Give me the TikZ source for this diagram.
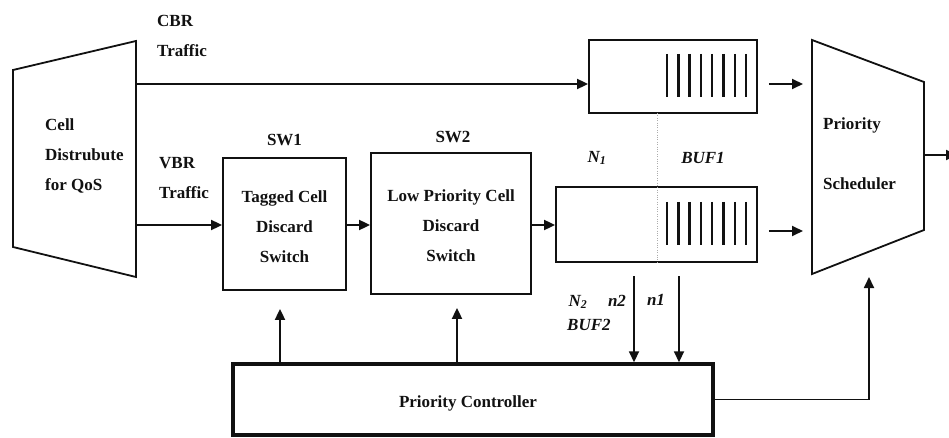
\documentclass[tikz,border=0pt]{standalone}
\usepackage{fontspec}
\setmainfont{Liberation Serif}
\usepackage{tikz}
\usetikzlibrary{arrows.meta,positioning}
\definecolor{DiagInk}{HTML}{111111}
\tikzset{
  box/.style={draw=DiagInk, line width=1.8pt, minimum width=#1},
  label/.style={text=DiagInk, font=\fontsize{17}{30}\selectfont\bfseries, inner sep=0pt},
  mlabel/.style={label, font=\fontsize{17}{30}\selectfont\bfseries\itshape},
  flow/.style={draw=DiagInk, line width=1.8pt, -{Triangle[length=11pt,width=10pt]}},
  link/.style={draw=DiagInk, line width=1.8pt},
}

\begin{document}
\begin{tikzpicture}[x=1pt,y=-1pt]
  \useasboundingbox (0,0) rectangle (949,438);
  % cell distributor and priority scheduler
  \draw[link, line join=miter] (13,70) -- (136,41) -- (136,277) -- (13,247) -- cycle;
  \draw[link, line join=miter] (812,40) -- (924,82) -- (924,230) -- (812,274) -- cycle;
  \node[label, align=left, anchor=west] (dist) at (45,155.5) {Cell\\Distrubute\\for QoS};
  \node[label, align=left, anchor=west] (sched) at (823,154) {Priority\\[30pt]Scheduler};
  \coordinate (cbr-out) at (136,84);
  \coordinate (vbr-out) at (136,225);
  \coordinate (sched-in1) at (803,84);
  \coordinate (sched-in2) at (803,231);
  \coordinate (sched-in3) at (869,277);
  \coordinate (sched-out) at (924,155);
  \coordinate (sched-end) at (957,155);
  \node[label, align=left, anchor=west] (cbr) at (157,35.5) {CBR\\Traffic};
  \node[label, align=left, anchor=west] (vbr) at (159,178) {VBR\\Traffic};

  % switches
  \node[box=123pt, minimum height=132pt] (sw1) at (284.5,224) {};
  \node[label, align=center] (sw1-txt) at (284.5,227) {Tagged Cell\\Discard\\Switch};
  \node[label] (sw1-name) at (284.5,140) {SW1};
  \node[box=160pt, minimum height=141pt] (sw2) at (451,223.5) {};
  \node[label, align=center] (sw2-txt) at (451,226) {Low Priority Cell\\Discard\\Switch};
  \node[label] (sw2-name) at (453,137) {SW2};

  % buffers
  \node[box=168pt, minimum height=73pt] (buf1) at (673,76.5) {};
  \node[box=201pt, minimum height=75pt] (buf2) at (656.5,224.5) {};
  \foreach \i in {0,...,7}{%
    \draw[DiagInk, line width=2.4pt] (667+\i*11.3,54) -- (667+\i*11.3,97);
    \draw[DiagInk, line width=2.4pt] (667+\i*11.3,202) -- (667+\i*11.3,245);}
  \draw[DiagInk!35, dotted] (657,113) -- (657,262);
  \node[mlabel] (n1-name) at (597,158) {N\textsubscript{1}};
  \node[mlabel] (buf1-name) at (703,158) {BUF1};
  \node[mlabel] (n2-name) at (578,302) {N\textsubscript{2}};
  \node[mlabel] (n2-txt) at (617,301) {n2};
  \node[mlabel, anchor=west] (buf2-name) at (567,325) {BUF2};
  \node[mlabel] (n1-txt) at (656,300) {n1};

  % controller
  \node[draw=DiagInk, line width=3.4pt, minimum width=480pt, minimum height=71pt] (ctrl) at (473,399.5) {};
  \node[label] (ctrl-txt) at (468,403) {Priority Controller};
  \coordinate (n2-top) at (634,276);
  \coordinate (n1-top) at (679,276);

  % traffic flow
  \draw[flow] (cbr-out) -- (cbr-out -| buf1.west);
  \draw[flow] (vbr-out) -- (vbr-out -| sw1.west);
  \draw[flow] (sw1.east |- vbr-out) -- (sw2.west |- vbr-out);
  \draw[flow] (sw2.east |- vbr-out) -- (buf2.west |- vbr-out);
  \draw[flow] ([xshift=11pt]buf1.east |- sched-in1) -- (sched-in1);
  \draw[flow] ([xshift=11pt]buf2.east |- sched-in2) -- (sched-in2);
  \draw[flow] (sched-out) -- (sched-end);

  % control signals
  \draw[flow] (ctrl.north -| 280,0) -- ([yshift=-18pt]sw1.south -| 280,0);
  \draw[flow] (ctrl.north -| 457,0) -- ([yshift=-13pt]sw2.south -| 457,0);
  \draw[flow] (n2-top) -- (n2-top |- ctrl.north);
  \draw[flow] (n1-top) -- (n1-top |- ctrl.north);
  \draw[flow] (ctrl.east) -| (sched-in3);
\end{tikzpicture}
\end{document}
